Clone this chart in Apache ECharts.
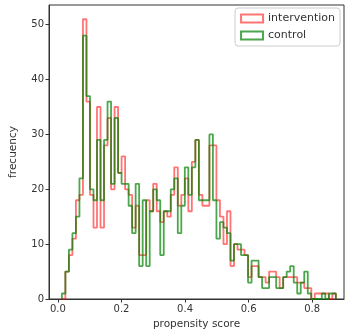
<!DOCTYPE html>
<html>
<head>
<meta charset="utf-8">
<script src="https://cdn.jsdelivr.net/npm/echarts@6/dist/echarts.min.js"></script>
<style>html,body{margin:0;padding:0;background:#fff;}#chart{width:347px;height:335px;}</style>
</head>
<body>
<div id="chart"></div>
<script>
// Histogram definition
const binStart = 0.0125;
const binWidth = 0.01105;
// Counts per bin
const intervention = [0,5,8,11,18,19,51,36,19,13,35,13,28,33,20,35,23,26,20,19,13,17,8,8,18,16,21,16,14,16,15,19,24,17,19,22,16,25,29,19,17,17,28,28,18,15,10,16,6,10,9,9,8,4,6,6,4,4,3,5,5,4,2,4,4,4,4,3,3,2,2,0,1,1,1,1,0,1];
const control = [1,5,9,12,15,22,48,37,20,18,29,18,29,36,21,33,23,21,21,17,12,21,6,18,6,16,20,18,8,16,16,20,22,12,17,24,19,24,29,18,18,18,30,18,11,14,13,12,7,10,10,8,8,3,7,7,4,2,2,4,4,2,2,4,5,6,3,1,3,5,1,0,0,0,1,0,1,1];
const xTicks = [0, 0.2, 0.4, 0.6, 0.8];
const yTicks = [0, 10, 20, 30, 40, 50];
const seriesNames = ['intervention', 'control'];

function stepPoints(counts) {
  const pts = [[binStart, 0]];
  for (let i = 0; i < counts.length; i++) {
    pts.push([binStart + i * binWidth, counts[i]]);
  }
  const end = binStart + counts.length * binWidth;
  pts.push([end, counts[counts.length - 1]]);
  pts.push([end, 0]);
  return pts;
}

const font = 'DejaVu Sans';
const redC = 'rgba(255,0,0,0.55)';
const greenC = 'rgba(0,128,0,0.7)';

const chart = echarts.init(document.getElementById('chart'), null, {renderer: 'canvas'});
chart.setOption({
  animation: false,
  grid: {left: 48, right: 3, top: 5, bottom: 35, show: true, borderColor: '#333', borderWidth: 1},
  legend: {
    data: seriesNames,
    orient: 'vertical',
    right: 7, top: 8,
    icon: 'rect',
    itemWidth: 22, itemHeight: 8,
    itemGap: 6,
    padding: [5, 5, 5, 5],
    borderColor: '#ccc', borderWidth: 1, borderRadius: 3,
    backgroundColor: 'rgba(255,255,255,0.8)',
    textStyle: {fontFamily: font, fontSize: 11, color: '#333'}
  },
  xAxis: {
    type: 'value', min: -0.028, max: 0.9,
    name: 'propensity score', nameLocation: 'middle', nameGap: 20,
    nameTextStyle: {fontFamily: font, fontSize: 10.5, color: '#333'},
    splitLine: {show: false},
    axisLine: {show: true, onZero: false, lineStyle: {color: '#333'}},
    axisTick: {show: true, length: 3.5, customValues: xTicks, lineStyle: {color: '#333'}},
    axisLabel: {customValues: xTicks, fontFamily: font, fontSize: 10, color: '#333', margin: 5,
      formatter: v => v.toFixed(1)}
  },
  yAxis: {
    type: 'value', min: 0, max: 53.6,
    name: 'frecuency', nameLocation: 'middle', nameGap: 30,
    nameTextStyle: {fontFamily: font, fontSize: 10.5, color: '#333'},
    splitLine: {show: false},
    axisLine: {show: true, onZero: false, lineStyle: {color: '#333'}},
    axisTick: {show: true, length: 3.5, customValues: yTicks, lineStyle: {color: '#333'}},
    axisLabel: {customValues: yTicks, fontFamily: font, fontSize: 10, color: '#333', margin: 5}
  },
  series: [
    {name: seriesNames[0], type: 'line', step: 'end', data: stepPoints(intervention), showSymbol: false, symbol: 'none',
      lineStyle: {color: redC, width: 1.8}, itemStyle: {color: 'transparent', borderColor: redC, borderWidth: 1.5}},
    {name: seriesNames[1], type: 'line', step: 'end', data: stepPoints(control), showSymbol: false, symbol: 'none',
      lineStyle: {color: greenC, width: 1.8}, itemStyle: {color: 'transparent', borderColor: greenC, borderWidth: 1.5}}
  ]
});
</script>
</body>
</html>
